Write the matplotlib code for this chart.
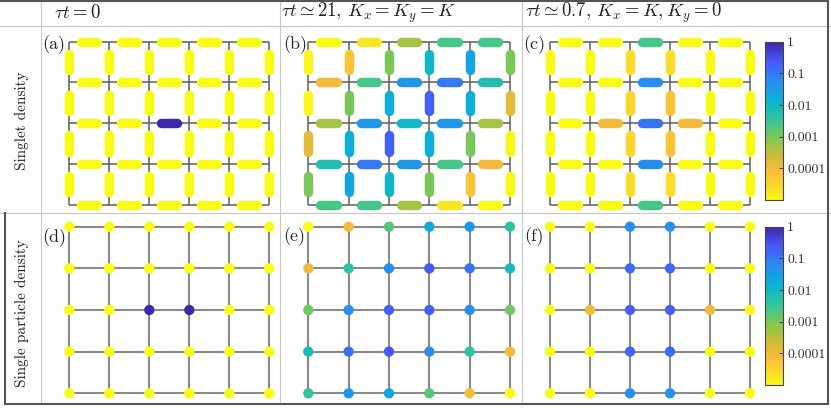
import numpy as np
import matplotlib
matplotlib.use('Agg')
import matplotlib.pyplot as plt
from matplotlib.colors import LinearSegmentedColormap, LogNorm
from matplotlib.collections import LineCollection
from matplotlib.cm import ScalarMappable

plt.rcParams['font.family'] = 'serif'
plt.rcParams['font.serif'] = ['cmr10']
plt.rcParams['mathtext.fontset'] = 'cm'
plt.rcParams['axes.unicode_minus'] = False

W, H = 831, 409
n_cols, n_rows = 6, 5

col_titles = [r'$\tau t = 0$',
              r'$\tau t \simeq 21,\, K_x = K_y = K$',
              r'$\tau t \simeq 0.7,\, K_x = K, K_y = 0$']
row_titles = ['Singlet density', 'Single particle density']
panel_tags = ['(a)', '(b)', '(c)', '(d)', '(e)', '(f)']
cbar_ticks = [1, 0.1, 0.01, 0.001, 0.0001]
cbar_labels = ['1', '0.1', '0.01', '0.001', '0.0001']

# singlet density on horizontal bonds (5 rows x 5 bonds) and vertical bonds (4 gaps x 6 columns)
h_a = [[1e-5, 1e-5, 1e-5, 1e-5, 1e-5],
       [1e-5, 1e-5, 1e-5, 1e-5, 1e-5],
       [1e-5, 1e-5, 1.0, 1e-5, 1e-5],
       [1e-5, 1e-5, 1e-5, 1e-5, 1e-5],
       [1e-5, 1e-5, 1e-5, 1e-5, 1e-5]]
v_a = [[1e-5, 1e-5, 1e-5, 1e-5, 1e-5, 1e-5],
       [1e-5, 1e-5, 1e-5, 1e-5, 1e-5, 1e-5],
       [1e-5, 1e-5, 1e-5, 1e-5, 1e-5, 1e-5],
       [1e-5, 1e-5, 1e-5, 1e-5, 1e-5, 1e-5]]

h_b = [[1e-5, 2e-5, 5e-4, 2.5e-3, 2.5e-3],
       [1e-4, 2.5e-3, 4e-2, 1e-1, 6e-3],
       [5e-4, 4e-2, 1e-2, 4e-2, 5e-4],
       [6e-3, 1e-1, 4e-2, 2.5e-3, 1e-4],
       [2.5e-3, 2.5e-3, 5e-4, 2e-5, 1e-5]]
v_b = [[1.2e-5, 6e-5, 1e-3, 1e-2, 2.5e-2, 1e-3],
       [1.2e-5, 1e-3, 1.6e-2, 2e-1, 1.6e-2, 1.6e-4],
       [1.6e-4, 1.6e-2, 2e-1, 1.6e-2, 1e-3, 1.2e-5],
       [1e-3, 2.5e-2, 1e-2, 1e-3, 6e-5, 1.2e-5]]

h_c = [[1e-5, 1e-5, 2.5e-3, 1e-5, 1e-5],
       [1e-5, 1e-5, 6e-2, 1e-5, 1e-5],
       [1e-5, 1e-4, 1.2e-1, 1e-4, 1e-5],
       [1e-5, 1e-5, 6e-2, 1e-5, 1e-5],
       [1e-5, 1e-5, 2.5e-3, 1e-5, 1e-5]]
v_c = [[1e-5, 1e-5, 2.5e-5, 2.5e-5, 1e-5, 1e-5],
       [1e-5, 1e-5, 3e-5, 6e-5, 1e-5, 1e-5],
       [1e-5, 1e-5, 3e-5, 6e-5, 1e-5, 1e-5],
       [1e-5, 1e-5, 2.5e-5, 2.5e-5, 1e-5, 1e-5]]

# single particle density on sites (5 rows x 6 columns)
s_d = [[1e-5, 1e-5, 1e-5, 1e-5, 1e-5, 1e-5],
       [1e-5, 1e-5, 1e-5, 1e-5, 1e-5, 1e-5],
       [1e-5, 1e-5, 1.0, 1.0, 1e-5, 1e-5],
       [1e-5, 1e-5, 1e-5, 1e-5, 1e-5, 1e-5],
       [1e-5, 1e-5, 1e-5, 1e-5, 1e-5, 1e-5]]
s_e = [[1e-5, 1e-4, 2e-3, 2e-2, 4e-2, 4e-3],
       [1e-4, 4e-3, 6e-2, 2.5e-1, 1.2e-1, 8e-3],
       [1.2e-3, 5e-2, 2e-1, 2e-1, 5e-2, 1.2e-3],
       [8e-3, 1.2e-1, 2.5e-1, 6e-2, 4e-3, 1e-4],
       [4e-3, 4e-2, 2e-2, 2e-3, 1e-4, 1e-5]]
s_f = [[1e-5, 1e-5, 5e-2, 5e-2, 1e-5, 1e-5],
       [1e-5, 1e-5, 1.6e-1, 1.6e-1, 1e-5, 1e-5],
       [1e-5, 1e-4, 2e-1, 2e-1, 1e-4, 1e-5],
       [1e-5, 1e-5, 1.6e-1, 1.6e-1, 1e-5, 1e-5],
       [1e-5, 1e-5, 5e-2, 5e-2, 1e-5, 1e-5]]

# parula-like map, reversed (yellow = low, dark blue = high)
parula = [(0.00, (0.2422, 0.1504, 0.6603)), (0.12, (0.2780, 0.3400, 0.9800)),
          (0.25, (0.1500, 0.5600, 0.9400)), (0.37, (0.0300, 0.7000, 0.8300)),
          (0.50, (0.2100, 0.7800, 0.5900)), (0.62, (0.5300, 0.7800, 0.3000)),
          (0.72, (0.8000, 0.7400, 0.2200)), (0.82, (0.9900, 0.7300, 0.2400)),
          (0.90, (0.9900, 0.8300, 0.1800)), (1.00, (0.9769, 0.9839, 0.0805))]
cmap = LinearSegmentedColormap.from_list('parula_r', [(1 - p, c) for p, c in parula[::-1]])
norm = LogNorm(vmin=1e-5, vmax=1)

fig = plt.figure(figsize=(W / 100, H / 100), dpi=100)

# table frame in pixel coordinates
bg = fig.add_axes([0, 0, 1, 1])
bg.set_xlim(0, W)
bg.set_ylim(H, 0)
bg.axis('off')
light = '#c8c8c8'
bg.plot([0, W], [26, 26], color=light, lw=0.8)
bg.plot([0, W], [213, 213], color=light, lw=0.8)
for xs in [41, 279.5, 521.5]:
    bg.plot([xs, xs], [0, 404], color=light, lw=0.8)
dark = '#555555'
bg.plot([0, 828], [1, 1], color=dark, lw=1.5)
bg.plot([828, 828], [0, 404], color=dark, lw=1.5)
bg.plot([5, 828], [404, 404], color=dark, lw=1.5)
bg.plot([5, 5], [213, 404], color=dark, lw=1.5)

for xs, t in zip([54, 281, 525], col_titles):
    bg.text(xs, 13, t, fontsize=13.5, va='center', ha='left', color='#222')
bg.text(22, 121, row_titles[0], rotation=90, fontsize=11, va='center', ha='center', color='#222')
bg.text(22, 313, row_titles[1], rotation=90, fontsize=11, va='center', ha='center', color='#222')

tag_pos = [(54, 45), (295, 45), (534, 45), (54, 238), (294, 237), (534, 237)]
for (tx, ty), tag in zip(tag_pos, panel_tags):
    bg.text(tx, ty, tag, fontsize=13, va='center', ha='center', color='#222')


def px_axes(left, top, width, height):
    return fig.add_axes([left / W, 1 - (top + height) / H, width / W, height / H])


def lattice_axes(x0, x5, y0, y4):
    sx = (x5 - x0) / 5
    sy = (y4 - y0) / 4
    pad = 0.7
    ax = px_axes(x0 - pad * sx, y0 - pad * sy, (5 + 2 * pad) * sx, (4 + 2 * pad) * sy)
    ax.set_xlim(-pad, 5 + pad)
    ax.set_ylim(4 + pad, -pad)
    ax.axis('off')
    return ax


def draw_grid(ax, color, lw):
    for r in range(n_rows):
        ax.plot([0, n_cols - 1], [r, r], color=color, lw=lw, zorder=1, solid_capstyle='butt')
    for c in range(n_cols):
        ax.plot([c, c], [0, n_rows - 1], color=color, lw=lw, zorder=1, solid_capstyle='butt')


def draw_bonds(ax, h_vals, v_vals):
    segs, vals = [], []
    for r in range(n_rows):
        for b in range(n_cols - 1):
            segs.append([(b + 0.3, r), (b + 0.7, r)])
            vals.append(h_vals[r][b])
    for g in range(n_rows - 1):
        for c in range(n_cols):
            segs.append([(c, g + 0.3), (c, g + 0.7)])
            vals.append(v_vals[g][c])
    lc = LineCollection(segs, cmap=cmap, norm=norm, linewidths=6.8, capstyle='round', zorder=3)
    lc.set_array(np.array(vals))
    ax.add_collection(lc)


def draw_sites(ax, s_vals):
    xx, yy = np.meshgrid(np.arange(n_cols), np.arange(n_rows))
    ax.scatter(xx.ravel(), yy.ravel(), c=np.array(s_vals).ravel(), cmap=cmap, norm=norm,
               s=55, edgecolors='none', zorder=3)


def add_cbar(top, bottom):
    cax = px_axes(765, top, 18, bottom - top)
    cb = fig.colorbar(ScalarMappable(norm=norm, cmap=cmap), cax=cax)
    cb.set_ticks(cbar_ticks)
    cb.set_ticklabels(cbar_labels)
    cb.minorticks_off()
    cb.outline.set_edgecolor('#444')
    cb.outline.set_linewidth(0.8)
    cax.tick_params(direction='in', length=3, width=0.7, colors='#444', labelcolor='#333',
                    labelsize=10, pad=3)


top_cols = [(69.3, 269.3), (308.3, 510), (550, 750)]
for (x0, x5), hv, vv in zip(top_cols, [h_a, h_b, h_c], [v_a, v_b, v_c]):
    ax = lattice_axes(x0, x5, 41.7, 204.5)
    draw_grid(ax, '#5e5e5e', 1.1)
    draw_bonds(ax, hv, vv)

for (x0, x5), sv in zip(top_cols, [s_d, s_e, s_f]):
    ax = lattice_axes(x0, x5, 226.7, 393.3)
    draw_grid(ax, '#8a8a8a', 1.5)
    draw_sites(ax, sv)

add_cbar(41.7, 200)
add_cbar(226.7, 385)

fig.savefig('out.png', dpi=100)
